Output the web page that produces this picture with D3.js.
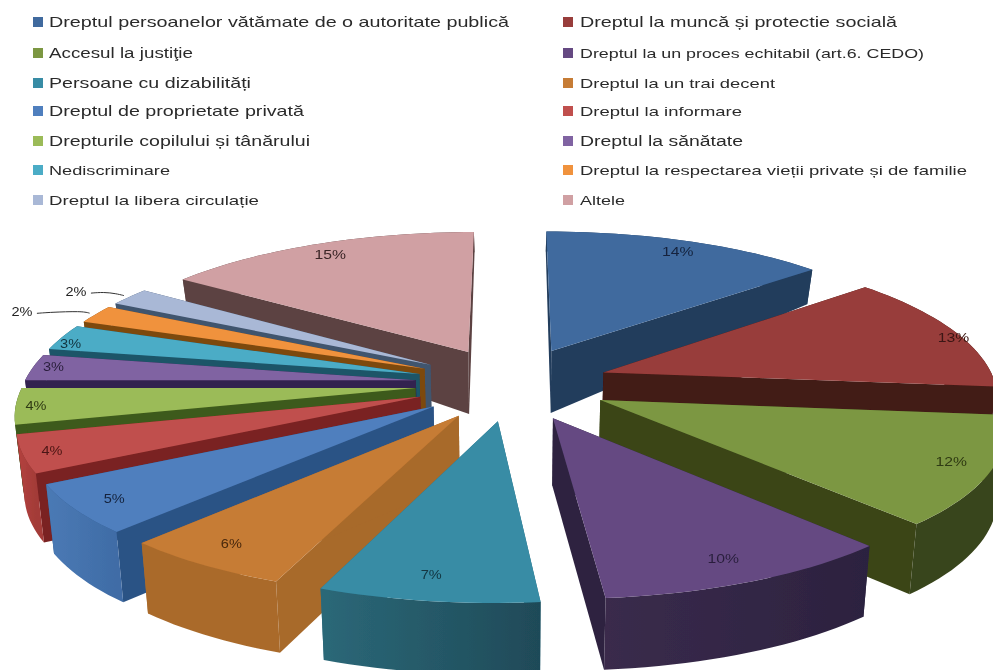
<!DOCTYPE html>
<html>
<head>
<meta charset="utf-8">
<script src="https://cdn.jsdelivr.net/npm/d3@7"></script>
<style>
  html, body { margin: 0; padding: 0; background: #fff; }
  svg { display: block; }
  text { font-family: "Liberation Sans", Arial, sans-serif; }
</style>
</head>
<body>
<div id="chart"></div>
<script>
// Data, in slice order (clockwise from 12 o'clock).
// The printed labels are rounded; the slice sizes are estimated from the angles.
const categories = [
  "Dreptul persoanelor vătămate de o autoritate publică",
  "Dreptul la muncă și protectie socială",
  "Accesul la justiţie",
  "Dreptul la un proces echitabil (art.6. CEDO)",
  "Persoane cu dizabilități",
  "Dreptul la un trai decent",
  "Dreptul de proprietate privată",
  "Dreptul la informare",
  "Drepturile copilului și tânărului",
  "Dreptul la sănătate",
  "Nediscriminare",
  "Dreptul la respectarea vieții private și de familie",
  "Dreptul la libera circulație",
  "Altele"
];
const values = [13.8, 12.7, 11.6, 10.4, 7.49, 5.9, 5.3, 4, 3.8, 2.8, 2.8, 2, 2, 15.41];

// Styles, same order as the data.
const topColors = ["#3f6a9e", "#983d3a", "#7c9743", "#654a82", "#378ca5", "#c67b34", "#4f7fbe", "#c0504d", "#9bbb59", "#8064a2", "#4bacc6", "#f0923e", "#a9b8d6", "#d0a0a3"];
const cutColors = ["#213c5c", "#431a16", "#3a4518", "#2f2440", "#2a6c80", "#a86a2b", "#2c5385", "#7a2222", "#3e5a1a", "#33234f", "#1c5468", "#7d4a10", "#40546e", "#5c4343"];
const rimLeft = ["#213c5c", "#431a16", "#39441b", "#3a2b4c", "#2b6878", "#aa6b2c", "#4b7ab5", "#b5423f", "#3e5a1a", "#33234f", "#1c5468", "#7d4a10", "#40546e", "#5c4343"];
const rimRight = ["#213c5c", "#431a16", "#39441b", "#2c223f", "#1f4a58", "#aa6b2c", "#3f6ca6", "#a33b38", "#3e5a1a", "#33234f", "#1c5468", "#7d4a10", "#40546e", "#5c4343"];
const labelColors = ["#15233d", "#3a1512", "#2f3a12", "#2a1f3d", "#12343f", "#4a2a0e", "#15233d", "#4a1514", "#2f3a12", "#2a1f3d", "#12343f", "#222", "#222", "#3a2526"];

// Paint order, far slices first, so near tops hide the walls behind them.
const paintOrder = [13, 12, 11, 10, 9, 8, 7, 6, 5, 4, 0, 1, 2, 3];

// Where each percent label sits on its slice: fraction of the radius, degrees off mid-angle.
const labelRadius = [0.9, 0.98, 0.9, 0.87, 0.87, 0.88, 0.9, 0.93, 0.95, 0.95, 0.96, 1.2, 1.16, 0.9];
const labelShift = [0.5, 2.4, -1.5, 0, 1, 1.1, 0, 0, 0, 1, -2, -3, -2, 0];
const leaderSlices = [11, 12];

// Legend layout: two columns, filled row by row.
const legendRows = [22, 53, 83, 111, 141, 170, 200];
const legendColumns = [{ swatch: 33, text: 49 }, { swatch: 563, text: 580 }];
const legendWidths = [460, 317, 144, 344, 202, 195, 255, 162, 261, 163, 121, 387, 210, 45];
const legendSizes = [15, 15, 14, 13, 15, 13, 15, 13, 15, 15.5, 13, 13, 13, 13];

const width = 993, height = 670;
const cx = 512, cy = 383.5;       // pie centre on screen
const scaleX = 392, scaleY = 150; // pixels per radius, at the centre of the plane
const perspX = 0.15;              // perspective strength across
const perspFar = 0.17, perspNear = 0.12; // and along the plane, behind / in front of the centre
const explode = 0.247;            // slice offset, in radii
const bottomShrink = 0.983;       // bottom face sits a little further away

// Wall height depends on how far back the point is in the plane.
const wallDepth = d3.scaleLinear([-1.22, -0.22, 0.3, 1.3], [20, 62, 68, 72]).clamp(true);

// Plane point (X right, t toward the viewer) to screen.
function project(X, t) {
  const wx = 1 / (1 - perspX * t);
  const wy = 1 / (1 - (t < 0 ? perspFar : perspNear) * t);
  return [cx + scaleX * X * wx, cy + scaleY * t * wy];
}
function dropped(X, t) {
  const p = project(X, t);
  return [cx + (p[0] - cx) * bottomShrink, p[1] + wallDepth(t)];
}

const pie = d3.pie().sort(null).value((d) => d);
const arcs = pie(values);

// Plane coordinates of a point on a slice, measured from that slice's own apex.
function slicePoint(d, f, a) {
  const mid = (d.startAngle + d.endAngle) / 2;
  return [
    explode * Math.sin(mid) + f * Math.sin(a),
    -explode * Math.cos(mid) - f * Math.cos(a)
  ];
}
function rimPoints(d) {
  const n = Math.max(4, Math.ceil((d.endAngle - d.startAngle) / 0.03));
  return d3.range(n + 1).map((i) => slicePoint(d, 1, d.startAngle + (d.endAngle - d.startAngle) * i / n));
}

const svg = d3.select("#chart").append("svg")
  .attr("width", width).attr("height", height)
  .attr("viewBox", `0 0 ${width} ${height}`);
svg.append("rect").attr("width", width).attr("height", height).attr("fill", "#fff");

// The reference is a soft, rescaled screenshot.
const defs = svg.append("defs");
defs.append("filter").attr("id", "soft")
  .attr("x", 0).attr("y", 0).attr("width", 1).attr("height", 1)
  .attr("filterUnits", "objectBoundingBox")
  .append("feGaussianBlur").attr("stdDeviation", 0.45);

const root = svg.append("g").attr("filter", "url(#soft)");
const line = d3.line();

paintOrder.forEach((i) => {
  const d = arcs[i];
  const g = root.append("g").attr("class", "slice");
  const apex = slicePoint(d, 0, 0);
  const rim = rimPoints(d);
  const first = rim[0], last = rim[rim.length - 1];

  // Cut faces on both sides of the slice.
  [first, last].forEach((end) => {
    const face = [project(...apex), project(...end), dropped(...end), dropped(...apex)];
    g.append("path").attr("d", line(face) + "Z").attr("fill", cutColors[i]);
  });

  // Outer wall, shaded across its width.
  const topEdge = rim.map((p) => project(...p));
  const lowEdge = rim.map((p) => dropped(...p)).reverse();
  const xs = topEdge.map((p) => p[0]);
  const gradId = `rim-${i}`;
  const grad = defs.append("linearGradient").attr("id", gradId)
    .attr("gradientUnits", "userSpaceOnUse")
    .attr("x1", d3.min(xs)).attr("x2", d3.max(xs)).attr("y1", 0).attr("y2", 0);
  grad.append("stop").attr("offset", 0).attr("stop-color", rimLeft[i]);
  grad.append("stop").attr("offset", 1).attr("stop-color", rimRight[i]);
  g.append("path").attr("d", line(topEdge.concat(lowEdge)) + "Z").attr("fill", `url(#${gradId})`);

  // Top face.
  g.append("path").attr("d", line([project(...apex)].concat(topEdge)) + "Z").attr("fill", topColors[i]);
});

// Percent labels.
function labelPos(i) {
  const d = arcs[i];
  const mid = (d.startAngle + d.endAngle) / 2 + labelShift[i] * Math.PI / 180;
  return project(...slicePoint(d, labelRadius[i], mid));
}
arcs.forEach((d, i) => {
  const [x, y] = labelPos(i);
  const t = `${Math.round(d.value)}%`;
  root.append("text").attr("x", x).attr("y", y + 5)
    .attr("text-anchor", "middle").attr("font-size", 13.5)
    .attr("textLength", t.length * 10.5).attr("lengthAdjust", "spacingAndGlyphs")
    .attr("fill", labelColors[i]).text(t);
});

// Leader lines for the two labels that sit outside their slices.
const leader = d3.line().curve(d3.curveBasis);
leaderSlices.forEach((i) => {
  const d = arcs[i];
  const [x, y] = labelPos(i);
  const end = project(...slicePoint(d, 1.02, (d.startAngle + d.endAngle) / 2));
  root.append("path")
    .attr("d", leader([[x + 15, y + 2], [x + 28, y + 1], [end[0] - 8, end[1] - 2], end]))
    .attr("fill", "none").attr("stroke", "#333").attr("stroke-width", 1);
});

// Legend.
categories.forEach((name, i) => {
  const col = legendColumns[i % 2];
  const y = legendRows[Math.floor(i / 2)];
  root.append("rect").attr("x", col.swatch).attr("y", y - 5)
    .attr("width", 10).attr("height", 10).attr("fill", topColors[i]);
  root.append("text").attr("x", col.text).attr("y", y + 5)
    .attr("font-size", legendSizes[i])
    .attr("textLength", legendWidths[i]).attr("lengthAdjust", "spacingAndGlyphs")
    .attr("fill", "#2b2b2b").text(name);
});
</script>
</body>
</html>
